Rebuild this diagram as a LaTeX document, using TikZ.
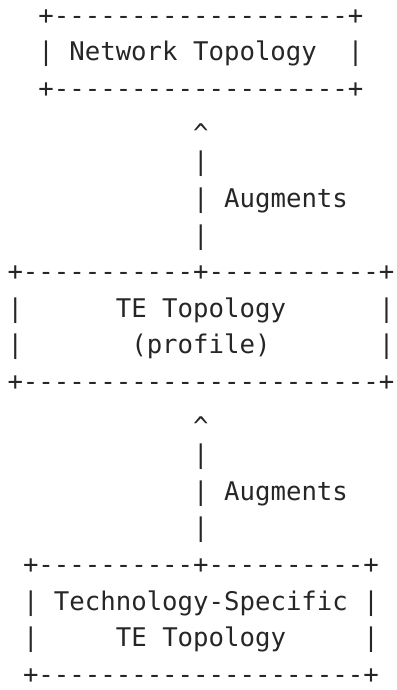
\documentclass[tikz,border=0pt]{standalone}
\usepackage{fontspec}
\setmonofont{DejaVu Sans Mono}

\begin{document}
\begin{tikzpicture}[x=1pt, y=1pt,
  ascii/.style={anchor=base west, inner sep=0pt, outer sep=0pt,
    font=\ttfamily\fontsize{25.7}{30}\selectfont, text=black!85}]
\useasboundingbox (0,0) rectangle (396,-690);

\node (NTtop) at (38.4,-24.4) [ascii] {+-------------------+};
\node (NTtxt) at (38.4,-61.0) [ascii] {|~Network Topology~~|};
\node (NTbot) at (38.4,-97.6) [ascii] {+-------------------+};

\node (AUup) at (193.2,-142.2) [ascii] {\textasciicircum};
\node (AUa) at (193.2,-170.8) [ascii] {|};
\node (AUlbl) at (193.2,-207.4) [ascii] {|~Augments};
\node (AUb) at (193.2,-244.0) [ascii] {|};

\node (TEtop) at (7.5,-280.6) [ascii] {+-----------+-----------+};
\node (TEtxt) at (7.5,-317.2) [ascii] {|~~~~~~TE Topology~~~~~~|};
\node (TEsub) at (7.5,-353.8) [ascii] {|~~~~~~~(profile)~~~~~~~|};
\node (TEbot) at (7.5,-390.4) [ascii] {+-----------------------+};

\node (TSup) at (193.2,-435.0) [ascii] {\textasciicircum};
\node (TSa) at (193.2,-463.6) [ascii] {|};
\node (TSlbl) at (193.2,-500.2) [ascii] {|~Augments};
\node (TSb) at (193.2,-536.8) [ascii] {|};

\node (TStop) at (23.0,-573.4) [ascii] {+----------+----------+};
\node (TStxt) at (23.0,-610.0) [ascii] {|~Technology-Specific~|};
\node (TSsub) at (23.0,-646.6) [ascii] {|~~~~~TE Topology~~~~~|};
\node (TSbot) at (23.0,-683.2) [ascii] {+---------------------+};
\end{tikzpicture}
\end{document}
